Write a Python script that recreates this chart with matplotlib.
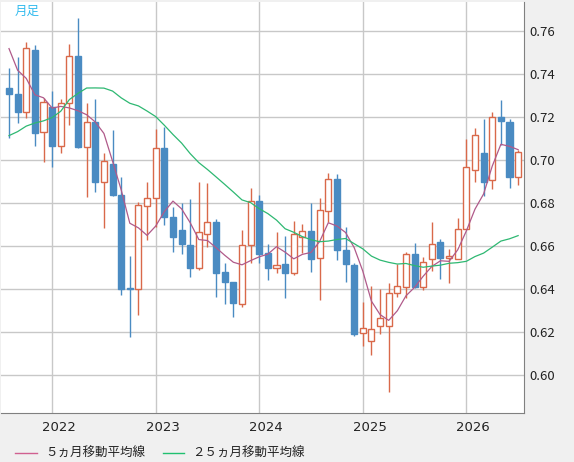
import matplotlib
matplotlib.use("Agg")
import matplotlib.pyplot as plt
import numpy as np
from matplotlib.patches import Rectangle

plt.rcParams['font.family'] = ['Noto Sans CJK JP', 'DejaVu Sans']

# Monthly OHLC, Aug 2021 .. Jul 2026
opens  = [0.7335,0.7307,0.7226,0.7513,0.7130,0.7250,0.7068,0.7265,0.7485,0.7060,
          0.7177,0.6900,0.6983,0.6839,0.6406,0.6400,0.6789,0.6823,0.7056,0.6735,
          0.6676,0.6606,0.6500,0.6656,0.6713,0.6480,0.6434,0.6333,0.6605,0.6811,
          0.6567,0.6498,0.6516,0.6477,0.6645,0.6671,0.6544,0.6763,0.6912,0.6581,
          0.6513,0.6195,0.6160,0.6231,0.6231,0.6384,0.6411,0.6566,0.6412,0.6541,
          0.6619,0.6544,0.6540,0.6679,0.6956,0.7036,0.6909,0.7200,0.7177,0.6921]
highs  = [0.7428,0.7479,0.7552,0.7536,0.7290,0.7320,0.7285,0.7540,0.7663,0.7265,
          0.7286,0.7033,0.7141,0.6924,0.6555,0.6805,0.6900,0.7146,0.7157,0.6785,
          0.6803,0.6819,0.6900,0.6893,0.6726,0.6522,0.6434,0.6676,0.6873,0.6839,
          0.6610,0.6667,0.6648,0.6718,0.6703,0.6803,0.6823,0.6943,0.6938,0.6690,
          0.6521,0.6343,0.6416,0.6402,0.6431,0.6518,0.6573,0.6614,0.6551,0.6712,
          0.6633,0.6586,0.6733,0.7099,0.7152,0.7192,0.7223,0.7281,0.7192,0.7048]
lows   = [0.7105,0.7172,0.7195,0.7068,0.6994,0.6970,0.7036,0.7164,0.7056,0.6830,
          0.6854,0.6687,0.6836,0.6374,0.6180,0.6280,0.6630,0.6691,0.6700,0.6572,
          0.6566,0.6459,0.6488,0.6598,0.6366,0.6333,0.6273,0.6320,0.6524,0.6524,
          0.6443,0.6478,0.6360,0.6465,0.6567,0.6482,0.6350,0.6715,0.6536,0.6436,
          0.6184,0.6136,0.6095,0.6192,0.5924,0.6363,0.6361,0.6408,0.6397,0.6487,
          0.6447,0.6428,0.6540,0.6679,0.6901,0.6836,0.6865,0.7071,0.6870,0.6885]
closes = [0.7307,0.7226,0.7521,0.7129,0.7270,0.7068,0.7265,0.7485,0.7064,0.7177,
          0.6900,0.6998,0.6839,0.6400,0.6400,0.6792,0.6823,0.7056,0.6735,0.6645,
          0.6612,0.6500,0.6665,0.6713,0.6478,0.6436,0.6338,0.6605,0.6811,0.6566,
          0.6498,0.6512,0.6477,0.6656,0.6670,0.6543,0.6767,0.6912,0.6581,0.6519,
          0.6192,0.6219,0.6214,0.6269,0.6384,0.6416,0.6566,0.6411,0.6528,0.6612,
          0.6547,0.6553,0.6679,0.6967,0.7118,0.6901,0.7200,0.7185,0.6921,0.7040]
# closes before the visible range (Aug 2019 .. Jul 2021), used only to seed the averages
prior_closes = [0.674,0.676,0.688,0.677,0.702,0.669,0.652,0.613,0.634,0.656,0.689,0.702,
                0.718,0.719,0.703,0.710,0.742,0.770,0.774,0.772,0.761,0.773,0.771,0.751,0.734][1:]

year_labels = ['2022', '2023', '2024', '2025', '2026']
year_idx = [5, 17, 29, 41, 53]
yticks = [0.60, 0.62, 0.64, 0.66, 0.68, 0.70, 0.72, 0.74, 0.76]

W, H = 574, 462
fig = plt.figure(figsize=(W/100, H/100), dpi=100, facecolor='#f0f0f0')
ax = fig.add_axes([1/W, (H-413)/H, 523/W, 411/H], facecolor='white')

allc = np.array(prior_closes + closes)
n = len(closes)
off = len(prior_closes)
ma5 = [allc[off+i-4:off+i+1].mean() for i in range(n)]
ma25 = [allc[off+i-24:off+i+1].mean() for i in range(n)]
x = np.arange(n)

blue = '#4a8bc2'; red = '#d9694a'
bw = 0.7
for i in x:
    o, h, l, c = opens[i], highs[i], lows[i], closes[i]
    up = c >= o
    col = red if up else blue
    lo_b, hi_b = min(o, c), max(o, c)
    ax.plot([i, i], [hi_b, h], color=col, lw=1.0, zorder=3, solid_capstyle='butt')
    ax.plot([i, i], [l, lo_b], color=col, lw=1.0, zorder=3, solid_capstyle='butt')
    ax.add_patch(Rectangle((i-bw/2, lo_b), bw, max(hi_b-lo_b, 0.0003),
                           facecolor='white' if up else blue, edgecolor=col,
                           lw=1.0, zorder=4))
ax.plot(x, ma5, color='#b05a8a', lw=0.9, zorder=5)
ax.plot(x, ma25, color='#2eb872', lw=0.9, zorder=5)

ax.set_xlim(-0.927, 59.68)
ax.set_ylim(0.5825, 0.7736)
ax.set_xticks(year_idx)
ax.set_xticklabels([])
ax.set_yticks(yticks)
ax.grid(True, color='#c8c8c8', lw=1)
ax.set_axisbelow(True)
ax.tick_params(length=0, labelleft=False, labelright=True, labelsize=9.5, pad=4, colors='#222222')
ax.yaxis.set_major_formatter(matplotlib.ticker.FormatStrFormatter('%.2f'))
for s in ['top', 'left', 'bottom']:
    ax.spines[s].set_visible(False)
ax.spines['right'].set_color('#808080')
ax.spines['bottom'].set_visible(True); ax.spines['bottom'].set_color('#808080')

for lab, xi in zip(year_labels, year_idx):
    ax.text(xi + 0.8, -0.035, lab, transform=ax.get_xaxis_transform(),
            ha='center', va='center', fontsize=9.5, color='#222222', family='DejaVu Sans')

fig.text(27/W, 1-11/H, '月足', color='#33bbee', fontsize=9, ha='center', va='center')
# legend
fig.add_artist(plt.Line2D([15/W, 37/W], [1-453/H]*2, color='#d06090', lw=1))
fig.text(45/W, 1-453/H, '５ヵ月移動平均線', fontsize=9, va='center', color='#222222')
fig.add_artist(plt.Line2D([163/W, 184/W], [1-453/H]*2, color='#20c070', lw=1))
fig.text(192/W, 1-453/H, '２５ヵ月移動平均線', fontsize=9, va='center', color='#222222')

fig.savefig('out.png', dpi=100, facecolor=fig.get_facecolor())
